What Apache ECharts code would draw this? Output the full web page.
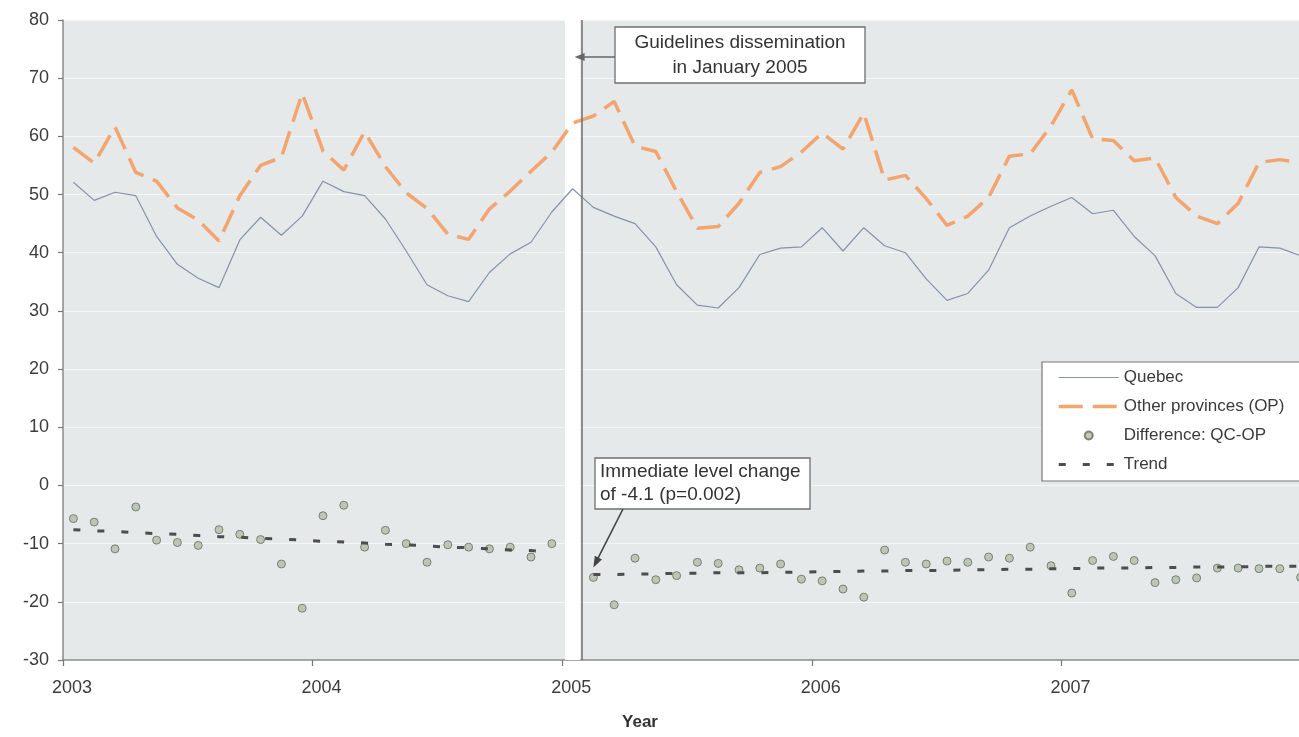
<!DOCTYPE html>
<html>
<head>
<meta charset="utf-8">
<script src="https://cdn.jsdelivr.net/npm/echarts@6/dist/echarts.min.js"></script>
<style>
  html, body { margin: 0; padding: 0; background: #ffffff; }
  #chart { width: 1299px; height: 737px; }
</style>
</head>
<body>
<div id="chart"></div>
<script>
// Monthly series, January 2003 to December 2007 (60 months)
const yearTicks = [2003, 2004, 2005, 2006, 2007];

const quebec = [
  52.1, 49.0, 50.4, 49.8, 42.8, 38.0, 35.6, 34.0, 42.2, 46.1, 43.0, 46.3,
  52.3, 50.5, 49.8, 45.8, 40.3, 34.5, 32.6, 31.6, 36.6, 39.8, 41.8, 47.0,
  51.0, 47.8, 46.3, 45.0, 41.0, 34.5, 31.0, 30.5, 34.0, 39.7, 40.8, 41.0,
  44.3, 40.3, 44.3, 41.2, 40.0, 35.5, 31.8, 33.0, 37.0, 44.3, 46.3, 48.0,
  49.5, 46.7, 47.3, 42.8, 39.5, 33.0, 30.6, 30.6, 34.0, 41.0, 40.8, 39.5
];

const otherProvinces = [
  58.1, 55.4, 61.6, 53.8, 52.3, 47.7, 45.6, 42.0, 49.8, 55.0, 56.4, 67.4,
  57.5, 54.2, 60.8, 54.8, 50.3, 47.6, 43.2, 42.3, 47.5, 50.6, 54.0, 57.3,
  62.3, 63.5, 66.0, 58.3, 57.4, 50.5, 44.2, 44.5, 48.5, 53.8, 54.8, 57.3,
  60.6, 57.8, 64.0, 52.5, 53.3, 49.3, 44.7, 46.3, 49.5, 56.6, 57.0, 61.8,
  68.0, 59.6, 59.3, 55.8, 56.3, 49.5, 46.3, 45.0, 48.5, 55.5, 56.0, 55.5
];

// QC - OP; January 2005 (the dissemination month) is left out
const difference = [
  -5.7, -6.3, -10.9, -3.7, -9.4, -9.8, -10.3, -7.6, -8.4, -9.3, -13.5, -21.1,
  -5.2, -3.4, -10.6, -7.7, -10.0, -13.2, -10.2, -10.6, -10.9, -10.6, -12.3, -10.0,
  null, -15.8, -20.5, -12.5, -16.2, -15.5, -13.2, -13.4, -14.5, -14.2, -13.5, -16.1,
  -16.4, -17.8, -19.2, -11.1, -13.2, -13.5, -13.0, -13.2, -12.3, -12.5, -10.6, -13.8,
  -18.5, -12.9, -12.2, -12.9, -16.7, -16.2, -15.9, -14.2, -14.2, -14.3, -14.3, -15.8
];

// Segmented trend: Jan 2003 - Dec 2004, then Feb 2005 - Dec 2007
const trendBefore = [
  -7.6, -7.8, -7.9, -8.1, -8.3, -8.4, -8.6, -8.8, -8.9, -9.1, -9.2, -9.4,
  -9.6, -9.7, -9.9, -10.1, -10.2, -10.4, -10.6, -10.7, -10.9, -11.1, -11.2, -11.4
];
const trendAfter = [
  -15.3, -15.3, -15.2, -15.2, -15.1, -15.1, -15.0, -15.0, -15.0, -14.9, -14.9,
  -14.8, -14.8, -14.7, -14.7, -14.6, -14.6, -14.6, -14.5, -14.5, -14.4, -14.4, -14.3, -14.3,
  -14.2, -14.2, -14.2, -14.1, -14.1, -14.0, -14.0, -14.0, -13.9, -13.9, -13.9
];
const trendAfterStart = 25; // February 2005

const interventionMonth = 24; // January 2005
const bandStart = 2005.011;
const bandEnd = 2005.072;

const FONT = '"Liberation Sans", Arial, Helvetica, sans-serif';

// mid-month position in decimal years
const monthPos = i => 2003 + (i + 0.5) / 12;
const toPoints = (vals, offset) =>
  vals.map((v, i) => [monthPos(i + (offset || 0)), v]).filter(p => p[1] !== null);

const chart = echarts.init(document.getElementById('chart'), null, { renderer: 'canvas' });

const hiddenMarker = { opacity: 0 };

const option = {
  animation: false,
  backgroundColor: '#ffffff',
  grid: {
    left: 63, top: 20, right: -12, bottom: 77,
    outerBoundsMode: 'none', containLabel: false,
    show: true, backgroundColor: '#e5e9e9', borderWidth: 0
  },
  xAxis: {
    type: 'value', min: 2003, max: 2008, interval: 1,
    axisLine: { show: true, onZero: false, lineStyle: { color: '#8a8a8a', width: 1.5 } },
    axisTick: { show: true, length: 6, lineStyle: { color: '#777', width: 1.2 } },
    axisLabel: {
      color: '#3c3c3c', fontSize: 18, fontFamily: FONT, margin: 19,
      padding: [0, 0, 0, 18],
      formatter: v => (yearTicks.indexOf(v) >= 0 ? String(v) : '')
    },
    splitLine: { show: false }
  },
  yAxis: {
    type: 'value', min: -30, max: 80, interval: 10,
    axisLine: { show: true, lineStyle: { color: '#8a8a8a', width: 1.5 } },
    axisTick: { show: true, length: 5, lineStyle: { color: '#777', width: 1.2 } },
    axisLabel: { color: '#3c3c3c', fontSize: 18, fontFamily: FONT, margin: 14 },
    splitLine: { show: true, lineStyle: { color: 'rgba(255,255,255,0.6)', width: 1 } }
  },
  legend: {
    orient: 'vertical', left: 1042, top: 362,
    padding: [7, 24, 8, 15],
    backgroundColor: '#ffffff', borderColor: '#777', borderWidth: 1.2,
    itemWidth: 60, itemHeight: 8, itemGap: 12,
    selectedMode: false,
    textStyle: { color: '#3a3a3a', fontSize: 17, fontFamily: FONT },
    data: [
      { name: 'Quebec', lineStyle: { width: 1.2 }, itemStyle: hiddenMarker },
      { name: 'Other provinces (OP)', lineStyle: { width: 3.5 }, itemStyle: hiddenMarker },
      { name: 'Difference: QC-OP' },
      { name: 'Trend', lineStyle: { width: 3 }, itemStyle: hiddenMarker }
    ]
  },
  series: [
    {
      name: 'Quebec', type: 'line', symbol: 'none',
      data: toPoints(quebec),
      lineStyle: { color: '#8592aa', width: 1.2 },
      itemStyle: { color: '#8592aa' }
    },
    {
      name: 'Other provinces (OP)', type: 'line', symbol: 'none',
      data: toPoints(otherProvinces),
      lineStyle: { color: '#f3a46f', width: 3.5, type: [24, 10], cap: 'butt' },
      itemStyle: { color: '#f3a46f' }
    },
    {
      name: 'Trend', type: 'line', symbol: 'none',
      data: toPoints(trendBefore),
      lineStyle: { color: '#4d4d4d', width: 3, type: [7, 17] },
      itemStyle: { color: '#4d4d4d' }
    },
    {
      name: 'Trend', type: 'line', symbol: 'none',
      data: toPoints(trendAfter, trendAfterStart),
      lineStyle: { color: '#4d4d4d', width: 3, type: [7, 17] },
      itemStyle: { color: '#4d4d4d' }
    },
    {
      name: 'Difference: QC-OP', type: 'scatter', symbol: 'circle', symbolSize: 8,
      data: toPoints(difference),
      itemStyle: { color: '#b3bba6', borderColor: '#666b62', borderWidth: 1 }
    },
    {
      // white gap marking the intervention month, with the post-period boundary line
      name: 'intervention', type: 'line', data: [], z: 3,
      markArea: {
        silent: true,
        itemStyle: { color: '#ffffff' },
        data: [[{ xAxis: bandStart }, { xAxis: bandEnd }]]
      },
      markLine: {
        silent: true, symbol: ['none', 'none'],
        label: { show: false },
        lineStyle: { color: '#6e6e6e', width: 1.5, type: 'solid' },
        data: [{ xAxis: bandEnd + 0.006 }]
      }
    }
  ]
};

chart.setOption(option);

// Annotations, anchored on the data they point at
const jan2005 = chart.convertToPixel({ gridIndex: 0 }, [monthPos(interventionMonth), 0]);
const firstPost = chart.convertToPixel({ gridIndex: 0 },
  [monthPos(interventionMonth + 1), difference[interventionMonth + 1]]);

function arrowHead(tip, from, len, half) {
  const dx = tip[0] - from[0], dy = tip[1] - from[1];
  const d = Math.sqrt(dx * dx + dy * dy);
  const ux = dx / d, uy = dy / d;
  const bx = tip[0] - ux * len, by = tip[1] - uy * len;
  return [[tip[0], tip[1]], [bx - uy * half, by + ux * half], [bx + uy * half, by - ux * half]];
}

const arrow1From = [615, 57];
const arrow1Tip = [jan2005[0] + 2, 57];
const arrow2From = [623, 509];
const arrow2Tip = [firstPost[0], firstPost[1] - 10];

chart.setOption({
  graphic: [
    {
      type: 'rect', z: 100,
      shape: { x: 615, y: 27, width: 250, height: 56 },
      style: { fill: '#ffffff', stroke: '#6f6f6f', lineWidth: 1.3 }
    },
    {
      type: 'text', z: 101,
      style: {
        x: 740, y: 55, text: 'Guidelines dissemination\nin January 2005',
        align: 'center', verticalAlign: 'middle', lineHeight: 25,
        fontSize: 19, fontFamily: FONT, fill: '#333333'
      }
    },
    {
      type: 'line', z: 100,
      shape: { x1: arrow1From[0], y1: arrow1From[1], x2: arrow1Tip[0] + 6, y2: arrow1Tip[1] },
      style: { stroke: '#666666', lineWidth: 1.5 }
    },
    {
      type: 'polygon', z: 100,
      shape: { points: arrowHead(arrow1Tip, arrow1From, 10, 4) },
      style: { fill: '#666666' }
    },
    {
      type: 'rect', z: 100,
      shape: { x: 595, y: 458, width: 215, height: 51 },
      style: { fill: '#ffffff', stroke: '#6f6f6f', lineWidth: 1.3 }
    },
    {
      type: 'text', z: 101,
      style: {
        x: 600, y: 483, text: 'Immediate level change\nof -4.1 (p=0.002)',
        align: 'left', verticalAlign: 'middle', lineHeight: 23,
        fontSize: 19, fontFamily: FONT, fill: '#333333'
      }
    },
    {
      type: 'line', z: 100,
      shape: { x1: arrow2From[0], y1: arrow2From[1], x2: arrow2Tip[0] + 3, y2: arrow2Tip[1] - 6 },
      style: { stroke: '#444444', lineWidth: 1.6 }
    },
    {
      type: 'polygon', z: 100,
      shape: { points: arrowHead(arrow2Tip, arrow2From, 11, 4) },
      style: { fill: '#444444' }
    },
    {
      type: 'text', z: 101,
      style: {
        x: 640, y: 722, text: 'Year', align: 'center', verticalAlign: 'middle',
        fontSize: 17, fontWeight: 'bold', fontFamily: FONT, fill: '#333333'
      }
    }
  ]
});
</script>
</body>
</html>
